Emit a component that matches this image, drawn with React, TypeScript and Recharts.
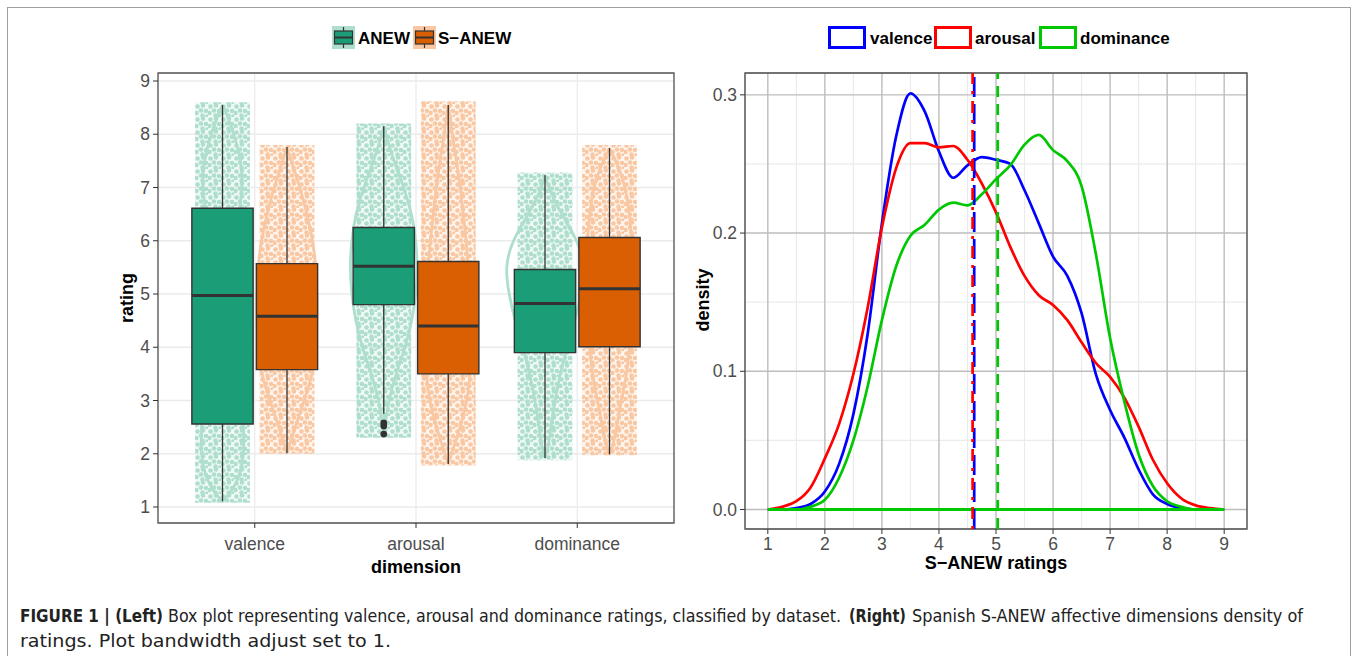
import React from "react";
import {
  ComposedChart,
  LineChart,
  Line,
  XAxis,
  YAxis,
  CartesianGrid,
  ReferenceArea,
  ReferenceLine,
  Scatter,
} from "recharts";

const FONT = '"Liberation Sans", Arial, Helvetica, sans-serif';
const CAPTION_FONT = '"Liberation Sans Narrow", "DejaVu Sans Condensed", "Liberation Sans", Arial, sans-serif';

// ---------------- Left panel data ----------------
const dimensions = ["valence", "arousal", "dominance"];
const datasetNames = ["ANEW", "S\u2212ANEW"];

// box statistics, one entry per dimension (valence, arousal, dominance)
const anewLow = [1.11, 2.75, 1.92];
const anewQ1 = [2.56, 4.8, 3.9];
const anewMedian = [4.97, 5.52, 4.82];
const anewQ3 = [6.61, 6.25, 5.46];
const anewHigh = [8.55, 8.15, 7.23];

const sanewLow = [2.01, 1.81, 1.99];
const sanewQ1 = [3.58, 3.5, 4.01];
const sanewMedian = [4.58, 4.4, 5.1];
const sanewQ3 = [5.57, 5.61, 6.06];
const sanewHigh = [7.76, 8.55, 7.74];

// outliers (arousal, ANEW)
const arousalAnewOutliers = [2.58, 2.52, 2.37];

// extent of jittered point clouds
const anewPointMin = [1.08, 2.3, 1.88];
const anewPointMax = [8.6, 8.2, 7.28];
const sanewPointMin = [2.0, 1.78, 1.97];
const sanewPointMax = [7.8, 8.62, 7.8];

// violin outlines: rating levels and half widths (category units)
const violinAnewLevels = [
  [8.55, 8.2, 7.8, 7.4, 7.0, 6.6, 6.0, 5.5, 5.0, 4.5, 4.0, 3.5, 3.0, 2.5, 2.0, 1.6, 1.3, 1.11],
  [8.15, 7.8, 7.4, 7.0, 6.5, 6.0, 5.5, 5.0, 4.5, 4.0, 3.5, 3.0, 2.6, 2.37],
  [7.23, 7.0, 6.5, 6.0, 5.5, 5.0, 4.5, 4.0, 3.5, 3.0, 2.5, 2.1, 1.92],
];
const violinAnewWidths = [
  [0, 0.05, 0.09, 0.12, 0.125, 0.105, 0.08, 0.07, 0.07, 0.075, 0.085, 0.1, 0.12, 0.13, 0.135, 0.11, 0.06, 0],
  [0, 0.03, 0.075, 0.125, 0.175, 0.2, 0.21, 0.2, 0.175, 0.135, 0.075, 0.03, 0.012, 0],
  [0, 0.019, 0.1, 0.205, 0.248, 0.224, 0.186, 0.137, 0.093, 0.062, 0.037, 0.019, 0],
];
const violinSanewLevels = [
  [7.76, 7.4, 7.0, 6.5, 6.0, 5.5, 5.0, 4.5, 4.0, 3.5, 3.0, 2.5, 2.01],
  [8.55, 8.0, 7.5, 7.0, 6.5, 6.0, 5.5, 5.0, 4.5, 4.0, 3.5, 3.0, 2.5, 2.1, 1.81],
  [7.74, 7.4, 7.0, 6.5, 6.0, 5.5, 5.0, 4.5, 4.0, 3.5, 3.0, 2.5, 2.1, 1.99],
];
const violinSanewWidths = [
  [0, 0.037, 0.081, 0.124, 0.161, 0.18, 0.186, 0.186, 0.18, 0.161, 0.106, 0.05, 0],
  [0, 0.025, 0.05, 0.075, 0.093, 0.112, 0.124, 0.137, 0.143, 0.143, 0.137, 0.118, 0.075, 0.031, 0],
  [0, 0.056, 0.1, 0.124, 0.137, 0.149, 0.149, 0.137, 0.124, 0.106, 0.075, 0.043, 0.019, 0],
];

const ratingTicks = [1, 2, 3, 4, 5, 6, 7, 8, 9];

// ---------------- Right panel data ----------------
const ratingGrid = [
  1, 1.25, 1.5, 1.75, 2, 2.25, 2.5, 2.75, 3, 3.25, 3.5, 3.75, 4, 4.25, 4.5, 4.75, 5,
  5.25, 5.5, 5.75, 6, 6.25, 6.5, 6.75, 7, 7.25, 7.5, 7.75, 8, 8.25, 8.5, 8.75, 9,
];
const valenceDensity = [
  0, 0, 0.001, 0.004, 0.013, 0.033, 0.069, 0.127, 0.207, 0.27, 0.301, 0.288, 0.259,
  0.24, 0.249, 0.255, 0.253, 0.25, 0.231, 0.207, 0.183, 0.169, 0.142, 0.098, 0.072,
  0.052, 0.029, 0.011, 0.004, 0.001, 0, 0, 0,
];
const arousalDensity = [
  0, 0.002, 0.006, 0.016, 0.037, 0.062, 0.098, 0.146, 0.204, 0.247, 0.265, 0.265,
  0.262, 0.263, 0.253, 0.236, 0.215, 0.19, 0.169, 0.155, 0.148, 0.137, 0.121, 0.106,
  0.096, 0.081, 0.06, 0.036, 0.019, 0.008, 0.003, 0.001, 0,
];
const dominanceDensity = [
  0, 0, 0, 0.002, 0.007, 0.023, 0.05, 0.089, 0.137, 0.176, 0.198, 0.206, 0.217, 0.222,
  0.22, 0.228, 0.239, 0.249, 0.264, 0.271, 0.26, 0.252, 0.234, 0.185, 0.124, 0.078,
  0.04, 0.017, 0.006, 0.002, 0, 0, 0,
];
const meanValence = 4.618;
const meanArousal = 4.59;
const meanDominance = 5.03;
const densityTicks = [0, 0.1, 0.2, 0.3];
const densityMinorTicks = [0.05, 0.15, 0.25];
const ratingMinorTicks = [1.5, 2.5, 3.5, 4.5, 5.5, 6.5, 7.5, 8.5];

// caption segments
const captionLine1 = [
  { text: "FIGURE 1 | (Left)", bold: true },
  { text: "Box plot representing valence, arousal and dominance ratings, classified by dataset.", bold: false },
  { text: "(Right)", bold: true },
  { text: "Spanish S-ANEW affective dimensions density of", bold: false },
];
const captionLine2 = "ratings. Plot bandwidth adjust set to 1.";

// ---------------- styling ----------------
const ANEW_DARK = "#1B9E77";
const SANEW_DARK = "#D95F02";
const ANEW_LIGHT = "#AEDECC";
const SANEW_LIGHT = "#F9C7A2";
const BLUE = "#0000FF";
const RED = "#FF0000";
const GREEN = "#00C800";
const TICK_COLOR = "#4D4D4D";
const BORDER = "#555555";

const dodge = 0.2;
const boxHalf = 0.19;
const jitterHalf = 0.17;

// caption layout (x start, width) for each segment of line 1
const captionLayout = [
  [20, 143],
  [168, 673],
  [849, 57],
  [912, 391],
];

type Group = {
  c: number;
  lo: number;
  q1: number;
  med: number;
  q3: number;
  hi: number;
  pMin: number;
  pMax: number;
  levels: number[];
  widths: number[];
  dark: string;
  light: string;
  pattern: string;
};

const groups: Group[] = [];
dimensions.forEach((_, i) => {
  groups.push({
    c: i + 1 - dodge,
    lo: anewLow[i],
    q1: anewQ1[i],
    med: anewMedian[i],
    q3: anewQ3[i],
    hi: anewHigh[i],
    pMin: anewPointMin[i],
    pMax: anewPointMax[i],
    levels: violinAnewLevels[i],
    widths: violinAnewWidths[i],
    dark: ANEW_DARK,
    light: ANEW_LIGHT,
    pattern: "url(#dotsAnew)",
  });
  groups.push({
    c: i + 1 + dodge,
    lo: sanewLow[i],
    q1: sanewQ1[i],
    med: sanewMedian[i],
    q3: sanewQ3[i],
    hi: sanewHigh[i],
    pMin: sanewPointMin[i],
    pMax: sanewPointMax[i],
    levels: violinSanewLevels[i],
    widths: violinSanewWidths[i],
    dark: SANEW_DARK,
    light: SANEW_LIGHT,
    pattern: "url(#dotsSanew)",
  });
});

const violinPath = (g: Group) => {
  const right = g.levels.map((v, k) => ({ x: g.c + g.widths[k], y: v }));
  const left = g.levels
    .map((v, k) => ({ x: g.c - g.widths[k], y: v }))
    .reverse();
  return [...right, ...left];
};

const outlierData = arousalAnewOutliers.map((v) => ({ x: 2 - dodge, y: v }));

const densityData = ratingGrid.map((r, i) => ({
  x: r,
  valence: valenceDensity[i],
  arousal: arousalDensity[i],
  dominance: dominanceDensity[i],
}));

const tickStyle = { fill: TICK_COLOR, fontSize: 17.5, fontFamily: FONT };

function DotPattern({ id, color }: { id: string; color: string }) {
  return (
    <pattern id={id} width="13" height="13" patternUnits="userSpaceOnUse">
      <rect width="13" height="13" fill={color} opacity={0.18} />
      <circle cx="2.5" cy="2.5" r="2.3" fill={color} />
      <circle cx="8" cy="1.5" r="2.3" fill={color} />
      <circle cx="6" cy="6.5" r="2.3" fill={color} />
      <circle cx="11" cy="7" r="2.3" fill={color} />
      <circle cx="1.5" cy="9" r="2.3" fill={color} />
      <circle cx="7.5" cy="11.5" r="2.3" fill={color} />
      <circle cx="12" cy="12" r="1.8" fill={color} />
    </pattern>
  );
}

function LeftPanel() {
  return (
    <ComposedChart
      width={690}
      height={600}
      margin={{ top: 73, right: 16, bottom: 47, left: 118 }}
    >
      <defs>
        <DotPattern id="dotsAnew" color={ANEW_LIGHT} />
        <DotPattern id="dotsSanew" color={SANEW_LIGHT} />
      </defs>
      <CartesianGrid stroke="#EBEBEB" strokeWidth={1.3} />
      <XAxis
        type="number"
        dataKey="x"
        domain={[0.4, 3.6]}
        ticks={[1, 2, 3]}
        tickFormatter={(v: number) => dimensions[Math.round(v) - 1]}
        allowDataOverflow
        axisLine={false}
        tickLine={{ stroke: "#333" }}
        tickSize={5}
        tickMargin={10}
        height={30}
        tick={tickStyle}
        interval={0}
      />
      <YAxis
        type="number"
        dataKey="y"
        domain={[0.7, 9.15]}
        ticks={ratingTicks}
        allowDataOverflow
        axisLine={false}
        tickLine={{ stroke: "#333" }}
        tickSize={5}
        tickMargin={3}
        width={40}
        tick={tickStyle}
        interval={0}
      />
      {groups.map((g, i) => (
        <ReferenceArea
          key={"cloud" + i}
          x1={g.c - jitterHalf}
          x2={g.c + jitterHalf}
          y1={g.pMin}
          y2={g.pMax}
          fill={g.pattern}
          fillOpacity={1}
          stroke="none"
          zIndex={50}
        />
      ))}
      {groups.map((g, i) => (
        <Line
          key={"violin" + i}
          data={violinPath(g)}
          dataKey="y"
          type="basis"
          stroke={g.light}
          strokeWidth={2.8}
          dot={false}
          activeDot={false}
          isAnimationActive={false}
          zIndex={150}
        />
      ))}
      {groups.map((g, i) => (
        <ReferenceArea
          key={"box" + i}
          x1={g.c - boxHalf}
          x2={g.c + boxHalf}
          y1={g.q1}
          y2={g.q3}
          fill={g.dark}
          fillOpacity={1}
          stroke="#333333"
          strokeWidth={1.4}
          zIndex={250}
        />
      ))}
      {groups.map((g, i) => (
        <ReferenceLine
          key={"wu" + i}
          segment={[
            { x: g.c, y: g.q3 },
            { x: g.c, y: g.hi },
          ]}
          stroke="#333333"
          strokeWidth={1.3}
          zIndex={350}
        />
      ))}
      {groups.map((g, i) => (
        <ReferenceLine
          key={"wl" + i}
          segment={[
            { x: g.c, y: g.lo },
            { x: g.c, y: g.q1 },
          ]}
          stroke="#333333"
          strokeWidth={1.3}
          zIndex={350}
        />
      ))}
      {groups.map((g, i) => (
        <ReferenceLine
          key={"med" + i}
          segment={[
            { x: g.c - boxHalf, y: g.med },
            { x: g.c + boxHalf, y: g.med },
          ]}
          stroke="#333333"
          strokeWidth={3}
          zIndex={350}
        />
      ))}
      <Scatter
        data={outlierData}
        dataKey="y"
        isAnimationActive={false}
        zIndex={450}
        shape={(p: any) => <circle cx={p.cx} cy={p.cy} r={3.4} fill="#333333" />}
      />
      <ReferenceArea
        x1={0.4}
        x2={3.6}
        y1={0.7}
        y2={9.15}
        fill="none"
        fillOpacity={0}
        stroke={BORDER}
        strokeWidth={1.3}
        zIndex={460}
      />
    </ComposedChart>
  );
}

function RightPanel() {
  return (
    <LineChart
      width={580}
      height={600}
      data={densityData}
      margin={{ top: 73, right: 13, bottom: 41, left: 20 }}
    >
      <XAxis xAxisId="minor" type="number" dataKey="x" domain={[0.6, 9.4]} ticks={ratingMinorTicks} hide allowDataOverflow />
      <YAxis yAxisId="minor" type="number" domain={[-0.0141, 0.3158]} ticks={densityMinorTicks} hide allowDataOverflow />
      <CartesianGrid xAxisId="minor" yAxisId="minor" stroke="#EBEBEB" strokeWidth={1.2} />
      <CartesianGrid stroke="#BDBDBD" strokeWidth={1.4} />
      <XAxis
        type="number"
        dataKey="x"
        domain={[0.6, 9.4]}
        ticks={ratingTicks}
        allowDataOverflow
        axisLine={false}
        tickLine={{ stroke: "#333" }}
        tickSize={5}
        tickMargin={4}
        height={30}
        tick={tickStyle}
        interval={0}
      />
      <YAxis
        type="number"
        domain={[-0.0141, 0.3158]}
        ticks={densityTicks}
        tickFormatter={(v: number) => v.toFixed(1)}
        allowDataOverflow
        axisLine={false}
        tickLine={{ stroke: "#333" }}
        tickSize={5}
        tickMargin={3}
        width={45}
        tick={tickStyle}
        interval={0}
      />
      <Line dataKey="valence" type="monotone" stroke={BLUE} strokeWidth={2.7} dot={false} activeDot={false} isAnimationActive={false} />
      <Line dataKey="arousal" type="monotone" stroke={RED} strokeWidth={2.7} dot={false} activeDot={false} isAnimationActive={false} />
      <Line dataKey="dominance" type="monotone" stroke={GREEN} strokeWidth={2.7} dot={false} activeDot={false} isAnimationActive={false} />
      <ReferenceLine
        segment={[
          { x: ratingGrid[0], y: 0 },
          { x: ratingGrid[ratingGrid.length - 1], y: 0 },
        ]}
        stroke={GREEN}
        strokeWidth={3}
      />
      <ReferenceLine x={meanValence} stroke={BLUE} strokeWidth={2.7} strokeDasharray="20 7" />
      <ReferenceLine x={meanArousal} stroke={RED} strokeWidth={2.7} strokeDasharray="3 7 12 7" />
      <ReferenceLine x={meanDominance} stroke={GREEN} strokeWidth={2.7} strokeDasharray="11 7" />
      <ReferenceArea
        x1={0.6}
        x2={9.4}
        y1={-0.0141}
        y2={0.3158}
        fill="none"
        fillOpacity={0}
        stroke={BORDER}
        strokeWidth={1.3}
      />
    </LineChart>
  );
}

function LegendBoxKey({ x, dark, light }: { x: number; dark: string; light: string }) {
  return (
    <g>
      <rect x={x} y={26} width={23} height={23} fill={light} />
      <line x1={x + 11.5} x2={x + 11.5} y1={27} y2={48} stroke="#333" strokeWidth={1.2} />
      <rect x={x + 2.5} y={31} width={18} height={13} fill={dark} stroke="#333" strokeWidth={1.2} />
      <line x1={x + 2.5} x2={x + 20.5} y1={37.5} y2={37.5} stroke="#333" strokeWidth={2} />
    </g>
  );
}

function Overlay() {
  const bold = { fontFamily: FONT, fontWeight: 700, fill: "#000" } as const;
  return (
    <svg
      width={1358}
      height={656}
      style={{ position: "absolute", left: 0, top: 0, pointerEvents: "none" }}
    >
      <rect x={7.5} y={7.5} width={1343} height={700} fill="none" stroke="#A0A0A0" strokeWidth={1} />
      {/* left legend */}
      <LegendBoxKey x={332} dark={ANEW_DARK} light={ANEW_LIGHT} />
      <text x={358} y={44} fontSize={17} {...bold}>{datasetNames[0]}</text>
      <LegendBoxKey x={413} dark={SANEW_DARK} light={SANEW_LIGHT} />
      <text x={438} y={44} fontSize={17} {...bold}>{datasetNames[1]}</text>
      {/* right legend */}
      <rect x={829.5} y={27.5} width={35} height={20} fill="#fff" stroke={BLUE} strokeWidth={3} />
      <text x={870} y={44} fontSize={17} {...bold}>valence</text>
      <rect x={935.5} y={27.5} width={35} height={20} fill="#fff" stroke={RED} strokeWidth={3} />
      <text x={975} y={44} fontSize={17} {...bold}>arousal</text>
      <rect x={1040.5} y={27.5} width={35} height={20} fill="#fff" stroke={GREEN} strokeWidth={3} />
      <text x={1080} y={44} fontSize={17} {...bold}>dominance</text>
      {/* axis titles */}
      <text transform="translate(133,298) rotate(-90)" textAnchor="middle" fontSize={18} {...bold}>rating</text>
      <text x={416} y={573} textAnchor="middle" fontSize={18} {...bold}>dimension</text>
      <text transform="translate(709,300) rotate(-90)" textAnchor="middle" fontSize={18} {...bold}>density</text>
      <text x={996} y={569} textAnchor="middle" fontSize={18} {...bold}>{"S\u2212ANEW ratings"}</text>
      {/* caption */}
      {captionLine1.map((seg, i) => (
        <text
          key={"cap" + i}
          x={captionLayout[i][0]}
          y={622}
          fontSize={17}
          fontFamily={CAPTION_FONT}
          fontWeight={seg.bold ? 700 : 400}
          fill="#222"
          textLength={captionLayout[i][1]}
          lengthAdjust="spacingAndGlyphs"
        >
          {seg.text}
        </text>
      ))}
      <text
        x={20}
        y={647}
        fontSize={17}
        fontFamily={CAPTION_FONT}
        fill="#222"
        textLength={371}
        lengthAdjust="spacingAndGlyphs"
      >
        {captionLine2}
      </text>
    </svg>
  );
}

export default function App() {
  return (
    <div
      style={{
        position: "absolute",
        left: 0,
        top: 0,
        width: 1358,
        height: 656,
        background: "#fff",
        overflow: "hidden",
        fontFamily: FONT,
      }}
    >
      <div style={{ position: "absolute", left: 0, top: 0 }}>
        <LeftPanel />
      </div>
      <div style={{ position: "absolute", left: 680, top: 0 }}>
        <RightPanel />
      </div>
      <Overlay />
    </div>
  );
}
